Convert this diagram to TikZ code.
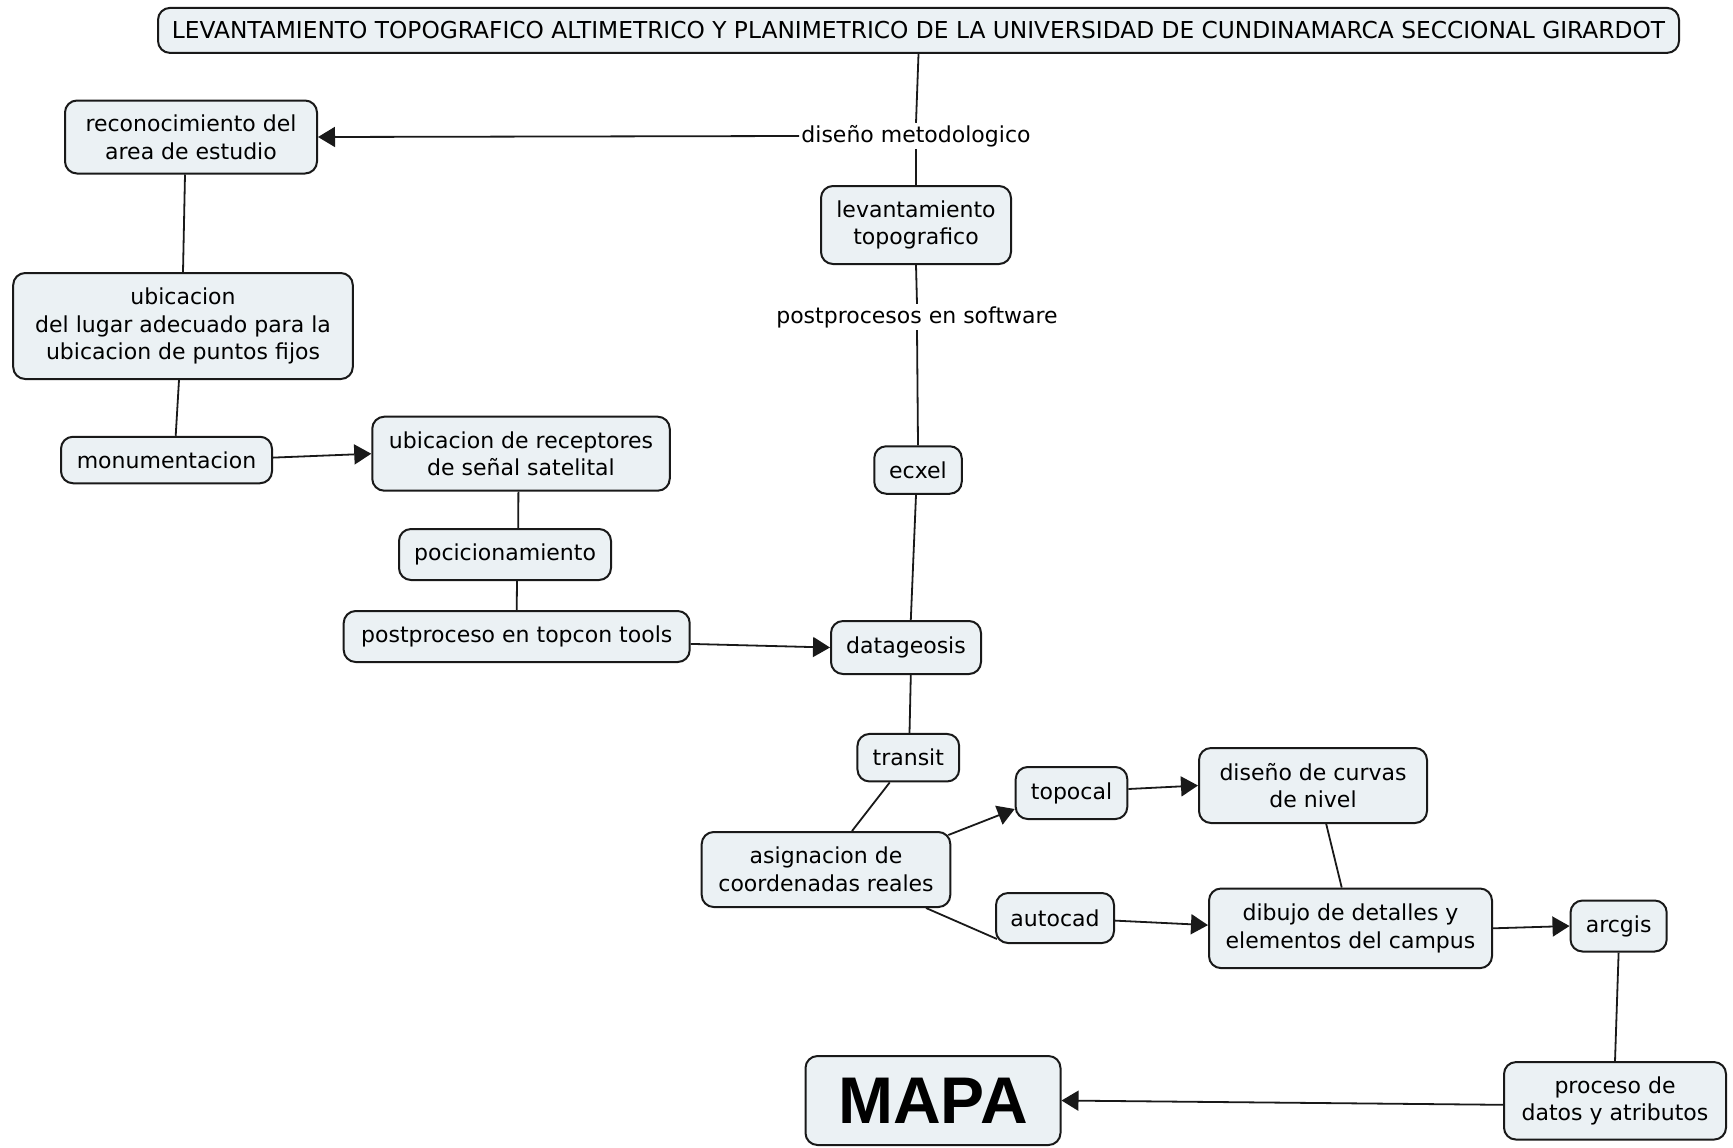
\documentclass[tikz,border=0pt]{standalone}
\usepackage{fontspec}
\setmainfont{DejaVu Sans}
\newfontfamily\mapafont{Liberation Sans}
\usetikzlibrary{arrows.meta,calc}
\definecolor{boxfill}{RGB}{235,241,244}
\definecolor{edge}{RGB}{25,25,25}
\begin{document}
\begin{tikzpicture}[x=0.5pt,y=-0.5pt,
  box/.style={draw=edge, line width=1pt, rounded corners=6pt, fill=boxfill, align=center, inner sep=0pt, font=\fontsize{11}{13.8}\selectfont},
  lbl/.style={inner sep=1pt, font=\fontsize{11}{13.8}\selectfont},
  link/.style={draw=edge, line width=0.9pt},
  arr/.style={link, -{Triangle[length=8.5pt,width=10pt]}}]
\useasboundingbox (0,0) rectangle (1733,1147);

\node[box, minimum width=760.5pt, minimum height=22.5pt, font=\fontsize{11.65}{13.8}\selectfont] (title) at (918.5,30.4) {LEVANTAMIENTO TOPOGRAFICO ALTIMETRICO Y PLANIMETRICO DE LA UNIVERSIDAD DE CUNDINAMARCA SECCIONAL GIRARDOT};
\node[lbl] (dm) at (916,136) {diseño metodologico};
\node[box, minimum width=126pt, minimum height=36.5pt] (recon) at (191,137) {reconocimiento del\\area de estudio};
\node[box, minimum width=95pt, minimum height=39pt] (lev) at (916,225) {levantamiento\\topografico};
\node[lbl] (ps) at (917,317) {postprocesos en software};
\node[box, minimum width=43.75pt, minimum height=23.75pt] (ecxel) at (918,470) {ecxel};
\node[box, minimum width=169.8pt, minimum height=53pt] (ubic) at (183,326) {ubicacion\\del lugar adecuado para la\\ubicacion de puntos fijos};
\node[box, minimum width=105.5pt, minimum height=23.25pt] (monu) at (166.5,460) {monumentacion};
\node[box, minimum width=148.75pt, minimum height=37pt] (recep) at (521,453.7) {ubicacion de receptores\\de señal satelital};
\node[box, minimum width=106pt, minimum height=25.5pt] (poci) at (505,554.5) {pocicionamiento};
\node[box, minimum width=173pt, minimum height=25.5pt] (topcon) at (516.7,636.5) {postproceso en topcon tools};
\node[box, minimum width=75pt, minimum height=26.5pt] (datag) at (906,647.5) {datageosis};
\node[box, minimum width=50.85pt, minimum height=23.75pt] (transit) at (908.3,757.7) {transit};
\node[box, minimum width=124.3pt, minimum height=37.5pt] (asig) at (826,869.5) {asignacion de\\coordenadas reales};
\node[box, minimum width=55.8pt, minimum height=26pt] (topocal) at (1071.5,793) {topocal};
\node[box, minimum width=114pt, minimum height=37.5pt] (curvas) at (1313,785.5) {diseño de curvas\\de nivel};
\node[box, minimum width=59pt, minimum height=25pt] (autocad) at (1055,918) {autocad};
\node[box, minimum width=141.5pt, minimum height=39.8pt] (dibujo) at (1350.5,928.3) {dibujo de detalles y\\elementos del campus};
\node[box, minimum width=48.1pt, minimum height=25.5pt] (arcgis) at (1618.6,926) {arcgis};
\node[box, minimum width=111pt, minimum height=38.75pt] (proceso) at (1615,1100.8) {proceso de\\datos y atributos};
\node[box, minimum width=127.5pt, minimum height=44.5pt, font=\mapafont\bfseries\fontsize{33}{36}\selectfont] (mapa) at (933,1100.5) {MAPA};

\draw[link] (title.south) -- (dm.north);
\draw[arr] (dm.west) -- (recon.east);
\draw[link] (dm.south) -- (lev.north);
\draw[link] (lev.south) -- (ps.north);
\draw[link] (ps.south) -- (ecxel.north);
\draw[link] ([xshift=-1pt]ecxel.south) -- ([xshift=2.4pt]datag.north);
\draw[link] ([xshift=-3pt]recon.south) -- (ubic.north);
\draw[link] ([xshift=-2pt]ubic.south) -- ([xshift=4.6pt]monu.north);
\draw[arr] ([yshift=1.2pt]monu.east) -- (recep.west);
\draw[link] ([xshift=-1.3pt]recep.south) -- ([xshift=6.6pt]poci.north);
\draw[link] ([xshift=6pt]poci.south) -- (topcon.north);
\draw[arr] ([yshift=-3.7pt]topcon.east) -- (datag.west);
\draw[link] ([xshift=2.4pt]datag.south) -- ([xshift=0.6pt]transit.north);
\draw[link] ([xshift=-9.3pt]transit.south) -- ([xshift=13pt]asig.north);
\draw[arr] ([xshift=-1.5pt,yshift=-2pt]asig.north east) -- ([yshift=-8pt]topocal.west);
\draw[arr] ([yshift=2pt]topocal.east) -- (curvas.west);
\draw[link] ([xshift=50pt]asig.south) -- ([xshift=1pt,yshift=2.5pt]autocad.south west);
\draw[arr] ([yshift=-1.3pt]autocad.east) -- ([yshift=1.6pt]dibujo.west);
\draw[link] ([xshift=-4.4pt]dibujo.north) -- ([xshift=6.6pt]curvas.south);
\draw[arr] (dibujo.east) -- (arcgis.west);
\draw[link] (arcgis.south) -- (proceso.north);
\draw[arr] ([yshift=-2pt]proceso.west) -- (mapa.east);
\end{tikzpicture}
\end{document}
